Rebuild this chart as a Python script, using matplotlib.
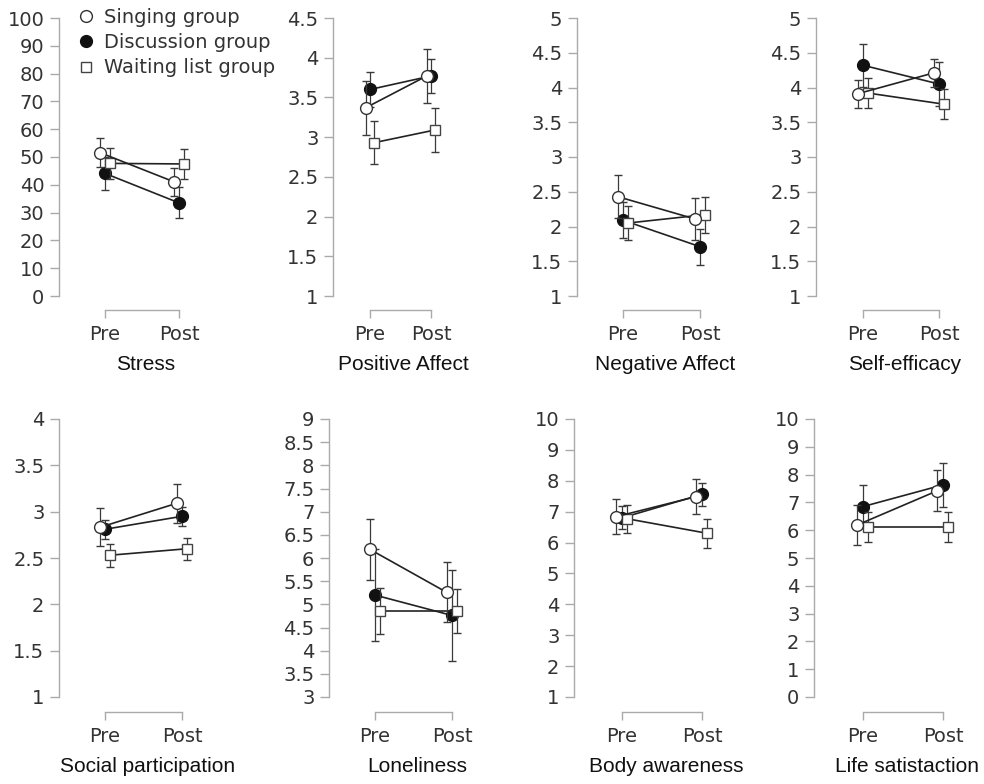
import matplotlib
matplotlib.use("Agg")
import matplotlib.pyplot as plt
from matplotlib.lines import Line2D
import numpy as np

measures = ["Stress", "Positive Affect", "Negative Affect", "Self-efficacy",
            "Social participation", "Loneliness", "Body awareness", "Life satistaction"]
times = ["Pre", "Post"]
groups = ["Singing group", "Discussion group", "Waiting list group"]

# (pre, post) means and error bars per measure
singing_mean = [(51.6, 41.1), (3.37, 3.77), (2.43, 2.11), (3.91, 4.21),
                (2.83, 3.09), (6.19, 5.26), (6.84, 7.49), (6.19, 7.42)]
singing_err = [(5.1, 5.1), (0.34, 0.345), (0.31, 0.30), (0.20, 0.20),
               (0.205, 0.21), (0.66, 0.65), (0.57, 0.56), (0.72, 0.73)]
discussion_mean = [(44.1, 33.5), (3.60, 3.77), (2.09, 1.71), (4.32, 4.05),
                   (2.81, 2.95), (5.20, 4.76), (6.80, 7.56), (6.85, 7.63)]
discussion_err = [(5.8, 5.6), (0.22, 0.22), (0.26, 0.26), (0.31, 0.32),
                  (0.10, 0.105), (1.0, 0.98), (0.37, 0.38), (0.76, 0.78)]
waiting_mean = [(47.7, 47.5), (2.93, 3.09), (2.05, 2.17), (3.92, 3.76),
                (2.53, 2.60), (4.86, 4.86), (6.77, 6.30), (6.13, 6.13)]
waiting_err = [(5.6, 5.5), (0.27, 0.28), (0.25, 0.26), (0.21, 0.22),
               (0.125, 0.12), (0.49, 0.48), (0.46, 0.47), (0.54, 0.54)]

y_lo = [0, 1, 1, 1, 1, 3, 1, 0]
y_hi = [100, 4.5, 5, 5, 4, 9, 10, 10]
y_step = [10, 0.5, 0.5, 0.5, 0.5, 0.5, 1, 1]

# layout in pixels: (left spine x, Pre x, Post x) per panel
W, H = 984, 784
panel_x = [(59, 105, 179), (333, 370, 431), (577, 623, 700), (816, 863, 939),
           (59, 105, 182), (329, 375, 452), (574, 622, 702), (814, 863, 943)]
# per row: (top tick y, bottom tick y, bracket y)
row_y = [(18, 296, 310), (419, 697, 712)]

styles = [
    dict(marker="o", mfc="white", mec="#333333", ms=8.5, off=-0.07, z=4),
    dict(marker="o", mfc="#111111", mec="#111111", ms=8.5, off=0.0, z=2),
    dict(marker="s", mfc="white", mec="#444444", ms=7, off=0.065, z=3),
]
series = [(singing_mean, singing_err), (discussion_mean, discussion_err),
          (waiting_mean, waiting_err)]

fig = plt.figure(figsize=(W / 100, H / 100), dpi=100)
axes = []
for i, name in enumerate(measures):
    sx, px, qx = panel_x[i]
    ty, yb, by = row_y[i // 4]
    right = qx + 30
    xs = qx - px
    ax = fig.add_axes([sx / W, 1 - by / H, (right - sx) / W, (by - ty) / H])
    ax.set_xlim(-(px - sx) / xs, 1 + 30 / xs)
    per = (yb - ty) / (y_hi[i] - y_lo[i])
    ax.set_ylim(y_lo[i] - (by - yb) / per, y_hi[i])

    x = np.arange(len(times))
    for (mean, err), st in zip(series, styles):
        ax.errorbar(x + st["off"], mean[i], yerr=err[i], fmt="-", color="#222222",
                    lw=1.2, marker=st["marker"], mfc=st["mfc"], mec=st["mec"],
                    ms=st["ms"], mew=1.0, elinewidth=0.9, ecolor="#3a3a3a",
                    capsize=3, capthick=0.9, zorder=st["z"], clip_on=False)

    ticks = np.arange(y_lo[i], y_hi[i] + y_step[i] / 2, y_step[i])
    ax.set_yticks(ticks)
    ax.set_yticklabels([f"{t:g}" for t in ticks])
    ax.set_xticks(x)
    ax.set_xticklabels(times)
    for s in ("top", "right"):
        ax.spines[s].set_visible(False)
    for s in ("left", "bottom"):
        ax.spines[s].set_color("#aaaaaa")
        ax.spines[s].set_linewidth(1.0)
    ax.spines["left"].set_bounds(y_lo[i], y_hi[i])
    ax.spines["bottom"].set_bounds(0, 1)
    ax.tick_params(axis="both", colors="#aaaaaa", width=1.0, labelcolor="#333333",
                   labelsize=14, direction="out")
    ax.tick_params(axis="y", length=6.5, pad=4)
    ax.tick_params(axis="x", length=6, pad=4.5)
    ax.annotate(name, xy=(0.55, 0), xycoords=("data", "axes fraction"),
                xytext=(0, -39.5), textcoords="offset points", ha="center",
                va="center", fontfamily="Liberation Sans", fontsize=15,
                color="#111111")
    axes.append(ax)

handles = [Line2D([], [], ls="none", marker=st["marker"], mfc=st["mfc"],
                  mec=st["mec"], ms=st["ms"], mew=1.0) for st in styles]
axes[0].legend(handles, groups, loc="upper left", bbox_to_anchor=(76 / W, 1 - 8 / H),
               bbox_transform=fig.transFigure, frameon=False, borderpad=0,
               borderaxespad=0, handlelength=1.0, handletextpad=0.45,
               labelspacing=0.32, fontsize=14, labelcolor="#333333")

fig.savefig("out.png", dpi=100)
